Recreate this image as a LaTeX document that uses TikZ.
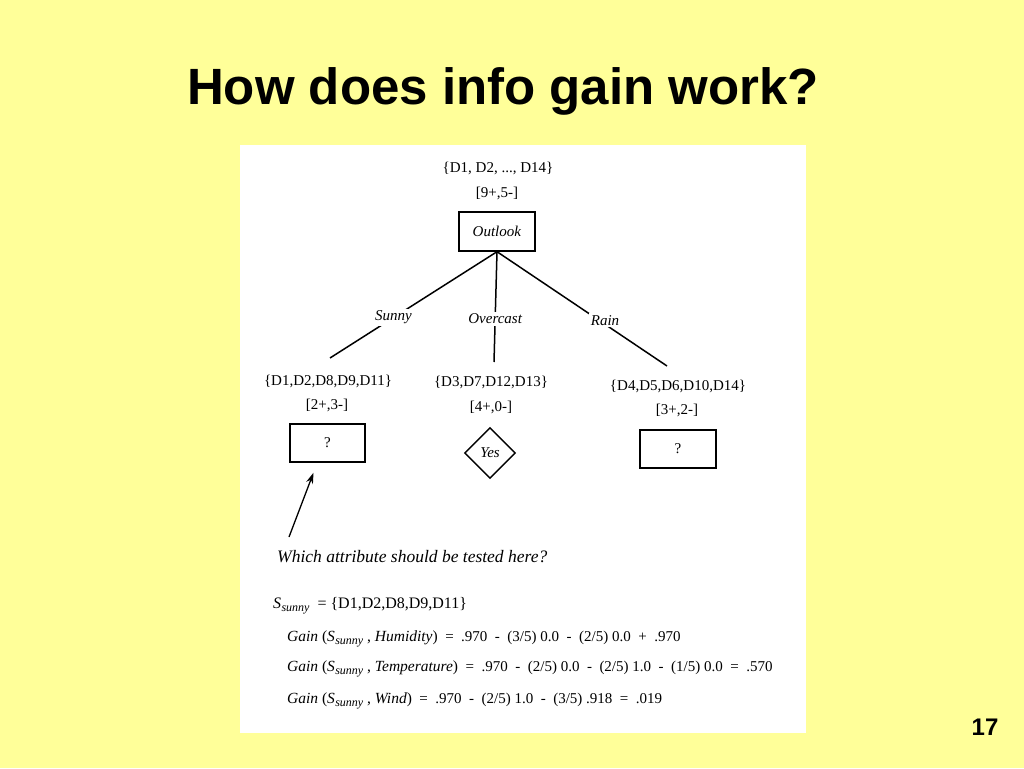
\documentclass[tikz,border=0pt]{standalone}
\usepackage{fontspec}
\setmainfont{Liberation Serif}
\newfontfamily\titlefont{Liberation Sans}
\usetikzlibrary{shapes.geometric,arrows.meta,calc}
\definecolor{bgyellow}{RGB}{255,255,153}
\newcommand{\ssub}[1]{\textit{S}\kern0.3pt\raisebox{-0.45ex}{\fontsize{12}{12}\selectfont\textit{#1}}}
\newcommand{\gainpart}[1]{{\fontsize{15.5}{17}\selectfont\textit{Gain} (\ssub{sunny} , \textit{#1})}}
\begin{document}
\begin{tikzpicture}[x=1pt,y=-1pt,
  txt/.style={inner sep=0pt, font=\fontsize{15}{17}\selectfont},
  boxnode/.style={draw, line width=1.4pt, inner sep=0pt, font=\fontsize{15}{17}\selectfont},
  branch/.style={draw, line width=1.5pt},
  lbl/.style={fill=white, inner sep=2pt, font=\fontsize{15}{17}\selectfont\itshape},
  gainline/.style={anchor=west, inner sep=0pt, font=\fontsize{15}{17}\selectfont},
  titlestyle/.style={inner sep=0pt, font=\titlefont\fontsize{51}{55}\selectfont\bfseries}
]
\useasboundingbox (0,0) rectangle (1024,768);
\fill[bgyellow] (0,0) rectangle (1024,768);
\fill[white] (240,145) rectangle (806,733);

\node[titlestyle] (title) at (503,91) {How does info gain work?};
\node[inner sep=0pt, font=\titlefont\fontsize{24}{26}\selectfont\bfseries] (pagenum) at (985,727) {17};

% root
\node[txt] (rootset) at (498,168) {\{D1, D2, ..., D14\}};
\node[txt] (rootcnt) at (497,193) {[9+,5-]};
\node[boxnode, minimum width=76pt, minimum height=39pt] (outlook) at (497,231.5) {\textit{Outlook}};

% branches
\coordinate (sunnyend) at (330,358);
\coordinate (overend) at (494,362);
\coordinate (rainend) at (667,366);
\draw[branch] (outlook.south) -- node[lbl, pos=0.62] (sunnylbl) {Sunny} (sunnyend);
\draw[branch] (outlook.south) -- node[lbl, pos=0.61] (overlbl) {Overcast} (overend);
\draw[branch] (outlook.south) -- node[lbl, pos=0.6, xshift=6pt] (rainlbl) {Rain} (rainend);

% level 2
\node[txt] (sset) at (328,381) {\{D1,D2,D8,D9,D11\}};
\node[txt] (scnt) at (327,405) {[2+,3-]};
\node[boxnode, minimum width=75pt, minimum height=38pt] (leftq) at (327.5,443) {?};

\node[txt] (oset) at (491,382) {\{D3,D7,D12,D13\}};
\node[txt] (ocnt) at (491,407) {[4+,0-]};
\node[draw, line width=1.4pt, diamond, aspect=1, minimum size=51pt, inner sep=0pt, font=\fontsize{15}{17}\selectfont\itshape] (yes) at (490,453) {Yes};

\node[txt] (rset) at (678,386) {\{D4,D5,D6,D10,D14\}};
\node[txt] (rcnt) at (677,410) {[3+,2-]};
\node[boxnode, minimum width=76pt, minimum height=38pt] (rightq) at (678,449) {?};

% arrow
\coordinate (arrowtail) at (289,537);
\draw[line width=1.3pt, -{Stealth[length=11pt,width=7pt]}] (arrowtail) -- ($(leftq.south)+(-14,10)$);

% text
\node[anchor=west, inner sep=0pt, font=\fontsize{17.5}{19}\selectfont\itshape] (question) at (277,557) {Which attribute should be tested here?};
\node[anchor=west, inner sep=0pt, font=\fontsize{16}{18}\selectfont] (sdef) at (273,606) {\ssub{sunny}\ \ = \{D1,D2,D8,D9,D11\}};
\node[gainline] (g1) at (287,639) {\gainpart{Humidity}\ \ = \ .970 \ - \ (3/5) 0.0 \ - \ (2/5) 0.0 \ + \ .970};
\node[gainline] (g2) at (287,669) {\gainpart{Temperature}\ \ = \ .970 \ - \ (2/5) 0.0 \ - \ (2/5) 1.0 \ - \ (1/5) 0.0 \ = \ .570};
\node[gainline] (g3) at (287,701) {\gainpart{Wind}\ \ = \ .970 \ - \ (2/5) 1.0 \ - \ (3/5) .918 \ = \ .019};
\end{tikzpicture}
\end{document}
